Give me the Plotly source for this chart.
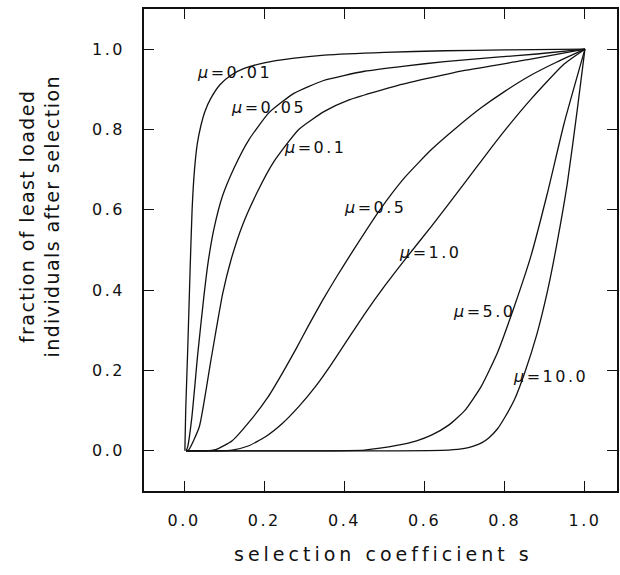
import plotly.graph_objects as go

# ---- data ----
s_mu001 = [0.002, 0.004, 0.009, 0.015, 0.02, 0.026, 0.033, 0.042, 0.052, 0.067, 0.09, 0.117, 0.15, 0.2, 0.27, 0.35, 0.5, 0.65, 0.8, 1.0]
f_mu001 = [0.0, 0.1, 0.25, 0.45, 0.6, 0.7, 0.765, 0.81, 0.845, 0.878, 0.912, 0.935, 0.952, 0.966, 0.977, 0.985, 0.992, 0.996, 0.998, 1.0]

s_mu005 = [0.005, 0.009, 0.019, 0.034, 0.05, 0.06, 0.075, 0.096, 0.125, 0.162, 0.212, 0.274, 0.348, 0.45, 0.55, 0.65, 0.78, 0.88, 1.0]
f_mu005 = [0.0, 0.01, 0.08, 0.24, 0.39, 0.47, 0.555, 0.635, 0.705, 0.775, 0.842, 0.89, 0.922, 0.945, 0.958, 0.969, 0.98, 0.988, 1.0]

s_mu01 = [0.005, 0.012, 0.038, 0.067, 0.096, 0.117, 0.145, 0.183, 0.224, 0.286, 0.35, 0.41, 0.534, 0.70, 0.865, 1.0]
f_mu01 = [0.0, 0.003, 0.06, 0.226, 0.39, 0.475, 0.56, 0.645, 0.72, 0.8, 0.845, 0.873, 0.91, 0.947, 0.975, 1.0]

s_mu05 = [0.005, 0.05, 0.079, 0.12, 0.165, 0.21, 0.245, 0.28, 0.311, 0.345, 0.381, 0.42, 0.485, 0.55, 0.617, 0.68, 0.741, 0.80, 0.865, 0.93, 1.0]
f_mu05 = [0.0, 0.0, 0.003, 0.025, 0.075, 0.135, 0.193, 0.255, 0.313, 0.374, 0.434, 0.496, 0.595, 0.68, 0.75, 0.805, 0.854, 0.895, 0.935, 0.968, 1.0]

s_mu10 = [0.005, 0.08, 0.12, 0.16, 0.203, 0.245, 0.286, 0.33, 0.369, 0.41, 0.452, 0.50, 0.55, 0.617, 0.70, 0.782, 0.865, 0.948, 1.0]
f_mu10 = [0.0, 0.0, 0.002, 0.012, 0.035, 0.068, 0.11, 0.163, 0.218, 0.28, 0.343, 0.41, 0.475, 0.559, 0.667, 0.775, 0.875, 0.963, 1.0]

s_mu50 = [0.005, 0.3, 0.45, 0.534, 0.58, 0.617, 0.66, 0.70, 0.741, 0.782, 0.824, 0.865, 0.906, 0.948, 1.0]
f_mu50 = [0.0, 0.0, 0.002, 0.014, 0.025, 0.039, 0.064, 0.10, 0.16, 0.245, 0.36, 0.484, 0.64, 0.815, 1.0]

s_mu100 = [0.005, 0.5, 0.66, 0.70, 0.72, 0.741, 0.76, 0.782, 0.80, 0.824, 0.85, 0.88, 0.906, 0.93, 0.956, 0.981, 1.0]
f_mu100 = [0.0, 0.0, 0.002, 0.006, 0.011, 0.019, 0.032, 0.055, 0.083, 0.127, 0.195, 0.29, 0.395, 0.515, 0.665, 0.85, 1.0]

curve_labels = ["0.01", "0.05", "0.1", "0.5", "1.0", "5.0", "10.0"]
label_s = [0.026, 0.112, 0.245, 0.394, 0.53, 0.667, 0.815]
label_f = [0.942, 0.854, 0.755, 0.605, 0.493, 0.347, 0.185]

tick_vals_x = [0.0, 0.2, 0.4, 0.6, 0.8, 1.0]
tick_vals_y = [0.0, 0.2, 0.4, 0.6, 0.8, 1.0]
tick_text_x = ["0.0", "0.2", "0.4", "0.6", "0.8", "1.0"]
tick_text_y = ["0.0", "0.2", "0.4", "0.6", "0.8", "1.0"]

FONT = "DejaVu Sans"
INK = "#111111"


def spaced(t, ls):
    return '<span style="letter-spacing:%spx">%s</span>' % (ls, t)


curves = [
    (s_mu001, f_mu001),
    (s_mu005, f_mu005),
    (s_mu01, f_mu01),
    (s_mu05, f_mu05),
    (s_mu10, f_mu10),
    (s_mu50, f_mu50),
    (s_mu100, f_mu100),
]

fig = go.Figure()
for (xs, ys), lab in zip(curves, curve_labels):
    fig.add_trace(go.Scatter(
        x=xs, y=ys, mode="lines", name="μ=" + lab,
        line=dict(color=INK, width=1.3, shape="spline", smoothing=0.5),
        hoverinfo="skip", showlegend=False,
    ))

annotations = []
for lab, xs, ys in zip(curve_labels, label_s, label_f):
    annotations.append(dict(
        x=xs, y=ys, xref="x", yref="y", xanchor="left", yanchor="middle",
        text=spaced("<i>μ</i>=" + lab, 2.5), showarrow=False,
        font=dict(family=FONT, size=16, color=INK),
    ))

# y axis title (two lines, rotated)
annotations.append(dict(
    x=-0.221, y=(491 - 216) / 482.0, xref="paper", yref="paper",
    xanchor="center", yanchor="middle",
    text=spaced("fraction of least loaded", 1.4) + "<br>" + spaced("individuals after selection", 1.4),
    textangle=-90, showarrow=False,
    font=dict(family=FONT, size=19, color=INK),
))
# x axis title
annotations.append(dict(
    x=(385 - 144) / 475.0, y=(491 - 554) / 482.0, xref="paper", yref="paper",
    xanchor="center", yanchor="middle",
    text=spaced("selection coefficient s", 4), showarrow=False,
    font=dict(family=FONT, size=19, color=INK),
))

axis_common = dict(
    showgrid=False, zeroline=False, showline=True, linecolor=INK, linewidth=1.5,
    mirror="ticks", ticks="inside", ticklen=10, tickwidth=1.2, tickcolor=INK,
    tickfont=dict(family=FONT, size=16, color=INK),
)

fig.update_layout(
    width=620, height=575,
    margin=dict(l=144, r=1, t=9, b=84),
    paper_bgcolor="white", plot_bgcolor="white",
    xaxis=dict(range=[-0.1, 1.08], tickvals=tick_vals_x,
               ticktext=[spaced(t, 2.5) for t in tick_text_x],
               ticklabelstandoff=14, **axis_common),
    yaxis=dict(range=[-0.1, 1.1], tickvals=tick_vals_y,
               ticktext=[spaced(t, 2.5) for t in tick_text_y],
               ticklabelstandoff=14, **axis_common),
    annotations=annotations,
    showlegend=False,
)

fig.write_html("out.html")
